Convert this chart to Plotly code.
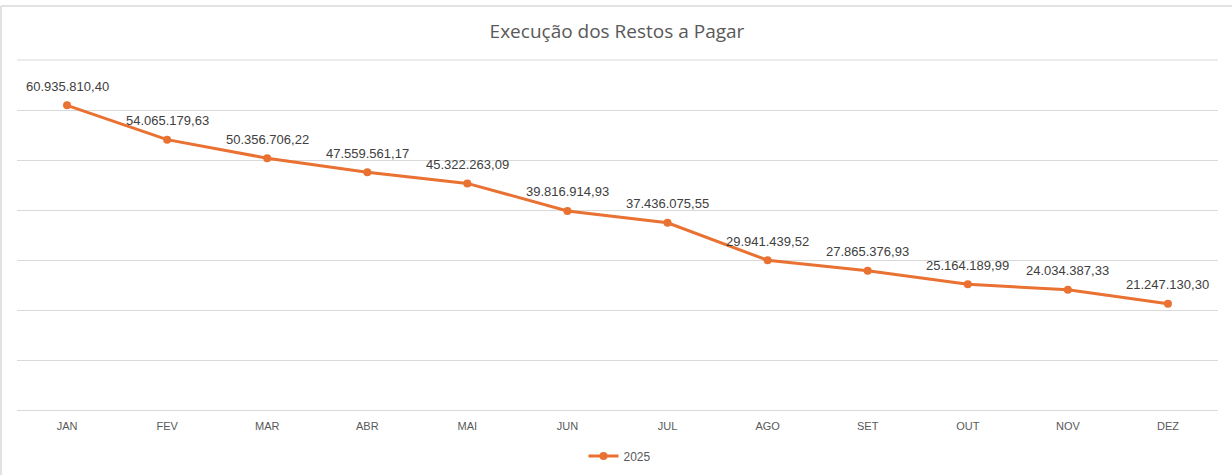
import plotly.graph_objects as go

# Monthly balance of "Restos a Pagar" in 2025
meses = ["JAN", "FEV", "MAR", "ABR", "MAI", "JUN", "JUL", "AGO", "SET", "OUT", "NOV", "DEZ"]
valores_2025 = [
    60935810.40, 54065179.63, 50356706.22, 47559561.17, 45322263.09, 39816914.93,
    37436075.55, 29941439.52, 27865376.93, 25164189.99, 24034387.33, 21247130.30,
]


def fmt_br(v):
    s = f"{v:,.2f}"
    return s.replace(",", "#").replace(".", ",").replace("#", ".")


rotulos = [fmt_br(v) for v in valores_2025]

LARANJA = "#E97132"
CINZA_TXT = "#595959"
GRADE = "#D9D9D9"
FONTE = "Liberation Sans, Arial, sans-serif"
FONTE_TIT = "Open Sans, sans-serif"

W, H = 1232, 475
ML, MR, MT, MB = 17, 14, 60, 65
plot_w = W - ML - MR
plot_h = H - MT - MB

fig = go.Figure()
fig.add_trace(go.Scatter(
    x=meses,
    y=valores_2025,
    mode="lines+markers",
    name="2025",
    line=dict(color=LARANJA, width=3),
    marker=dict(color=LARANJA, size=8),
    cliponaxis=False,
))

# Data labels above each point
for m, v, t in zip(meses, valores_2025, rotulos):
    fig.add_annotation(
        x=m, y=v, text=t, showarrow=False, yshift=19,
        font=dict(family=FONTE, size=13, color="#404040"),
    )

# Top gridline at the upper edge of the value axis
fig.add_shape(type="line", xref="paper", yref="paper", x0=0, x1=1, y0=1, y1=1,
              line=dict(color=GRADE, width=1), layer="below")

# Light frame around the chart area (top and left edges)
fx0 = (1 - ML) / plot_w
fy_top = 1 + (MT - 6) / plot_h
fy_bot = -(MB + 5) / plot_h
fig.add_shape(type="line", xref="paper", yref="paper", x0=fx0, x1=(W - ML) / plot_w,
              y0=fy_top, y1=fy_top, line=dict(color=GRADE, width=1.5))
fig.add_shape(type="line", xref="paper", yref="paper", x0=fx0, x1=fx0,
              y0=fy_bot, y1=fy_top, line=dict(color=GRADE, width=1.5))

fig.update_layout(
    width=W,
    height=H,
    margin=dict(l=ML, r=MR, t=MT, b=MB, autoexpand=False),
    paper_bgcolor="white",
    plot_bgcolor="white",
    title=dict(
        text="Execução dos Restos a Pagar",
        x=617 / W,
        xanchor="center",
        y=1 - 31 / H,
        yanchor="middle",
        yref="container",
        font=dict(family=FONTE_TIT, size=19, color=CINZA_TXT),
    ),
    xaxis=dict(
        type="category",
        range=[-0.5, 11.5],
        showgrid=False,
        showline=False,
        zeroline=False,
        ticks="",
        ticklabelstandoff=8,
        tickfont=dict(family=FONTE, size=11, color=CINZA_TXT),
    ),
    yaxis=dict(
        range=[0, 70000000],
        dtick=10000000,
        tick0=0,
        showgrid=True,
        gridcolor=GRADE,
        gridwidth=1,
        zeroline=True,
        zerolinecolor=GRADE,
        zerolinewidth=1,
        showticklabels=False,
        ticks="",
        fixedrange=True,
    ),
    showlegend=True,
    legend=dict(
        orientation="h",
        x=(620 - ML) / plot_w,
        xanchor="center",
        y=-(456 - (MT + plot_h)) / plot_h,
        yanchor="middle",
        font=dict(family=FONTE, size=12, color=CINZA_TXT),
        bgcolor="rgba(0,0,0,0)",
    ),
)

fig.write_html("out.html")
